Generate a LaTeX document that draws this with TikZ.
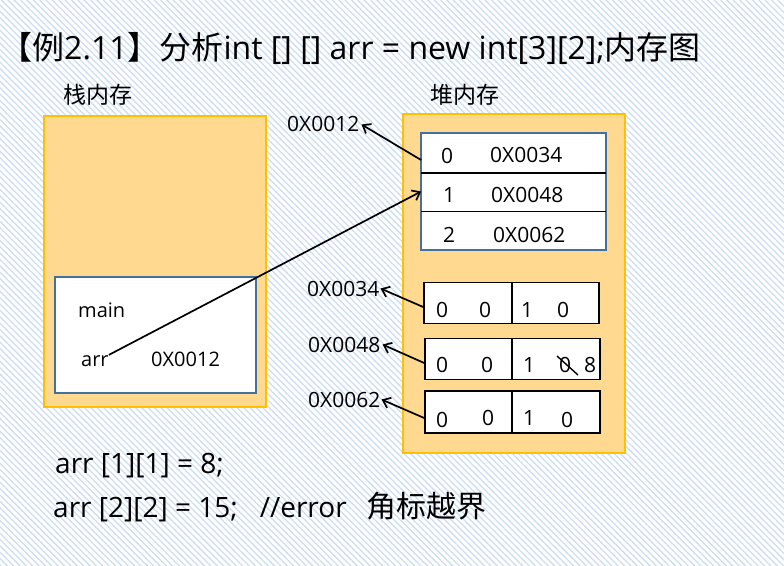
\documentclass[tikz,border=0pt]{standalone}
\usepackage{fontspec}
\setmainfont{Open Sans}
\newfontfamily\cjk{Noto Sans CJK SC}
\usetikzlibrary{arrows.meta,patterns.meta}
\definecolor{orfill}{HTML}{FFD98F}
\definecolor{orline}{HTML}{FFC000}
\definecolor{bluel}{HTML}{41719C}
\definecolor{hatch}{HTML}{CCDEF3}
\tikzset{
  txt/.style={inner sep=0pt, anchor=base west, font=\fontsize{21}{24}\selectfont},
  ctxt/.style={inner sep=0pt, anchor=base, font=\fontsize{21}{24}\selectfont},
  membox/.style={draw=orline, line width=1.6pt, fill=orfill},
  framebox/.style={draw=bluel, line width=1.8pt, fill=white},
  cellbox/.style={draw=black, line width=1.6pt, fill=white},
  arr/.style={line width=1.7pt, -{Straight Barb[length=7pt,width=11pt,line width=1.7pt]}},
}
\begin{document}
\begin{tikzpicture}[x=1pt,y=-1pt]
\useasboundingbox (0,0) rectangle (784,565);
\fill[white] (0,0) rectangle (784,565);
\fill[pattern={Lines[angle=-45,distance=4.5pt,line width=1.3pt]}, pattern color=hatch] (0,0) rectangle (784,565);

% title
\node[inner sep=0pt, anchor=base west, font=\fontsize{32}{36}\selectfont] (title) at (0,59)
  {{\cjk 【例}2.11{\cjk 】分析}int [] [] arr = new int[3][2];{\cjk 内存图}};

\node[inner sep=0pt, anchor=base west, font=\cjk\fontsize{23}{26}\selectfont] (stk) at (63,103) {栈内存};
\node[inner sep=0pt, anchor=base west, font=\cjk\fontsize{23}{26}\selectfont] (hp) at (430,103) {堆内存};

% stack memory
\draw[membox] (44,116) rectangle (266,407);
\draw[framebox] (55,277) rectangle (256,393);
\node[txt, font=\fontsize{20}{24}\selectfont] (main) at (78,317) {main};
\node[txt, font=\fontsize{20}{24}\selectfont] (arrv) at (81,366) {arr};
\node[txt, font=\fontsize{20}{24}\selectfont] (addr) at (151,366) {0X0012};

% heap memory
\draw[membox] (403,114) rectangle (625,453);
\node[framebox, draw=none, fill=white, minimum width=183pt, minimum height=38.5pt, inner sep=0pt] (r0) at (513.5,153) {};
\node[framebox, draw=none, fill=white, minimum width=183pt, minimum height=38.5pt, inner sep=0pt] (r1) at (513.5,191.5) {};
\node[framebox, draw=none, fill=white, minimum width=183pt, minimum height=38.5pt, inner sep=0pt] (r2) at (513.5,230) {};
\draw[draw=bluel, line width=1.8pt] (r0.north west) rectangle (r2.south east);
\draw[black, line width=1.6pt] (r0.south west) -- (r0.south east);
\draw[black, line width=1.6pt] (r1.south west) -- (r1.south east);
\node[txt] (i0) at (441,163) {0};
\node[txt] (a0) at (490,162) {0X0034};
\node[txt] (i1) at (443,202) {1};
\node[txt] (a1) at (491,202) {0X0048};
\node[txt] (i2) at (443,242) {2};
\node[txt] (a2) at (493,242) {0X0062};

% one-dim arrays
\node[cellbox, minimum width=88pt, minimum height=41pt, inner sep=0pt] (b1l) at (468,303) {};
\node[cellbox, minimum width=87pt, minimum height=41pt, inner sep=0pt] (b1r) at (555.5,303) {};
\node[cellbox, minimum width=88pt, minimum height=41pt, inner sep=0pt] (b2l) at (469,359) {};
\node[cellbox, minimum width=88pt, minimum height=41pt, inner sep=0pt] (b2r) at (556,359) {};
\node[cellbox, minimum width=88pt, minimum height=42pt, inner sep=0pt] (b3l) at (469,412) {};
\node[cellbox, minimum width=88pt, minimum height=42pt, inner sep=0pt] (b3r) at (556,412) {};

\node[ctxt] (c11) at (442,317) {0};
\node[ctxt] (c12) at (485,317) {0};
\node[ctxt] (c13) at (527,317) {1};
\node[ctxt] (c14) at (563,317) {0};
\node[ctxt] (c21) at (442,372) {0};
\node[ctxt] (c22) at (487,372) {0};
\node[ctxt] (c23) at (529,372) {1};
\node[ctxt] (c24) at (565,372) {0};
\node[ctxt] (c25) at (590,372) {8};
\node[ctxt] (c31) at (442,427) {0};
\node[ctxt] (c32) at (488,425) {0};
\node[ctxt] (c33) at (529,425) {1};
\node[ctxt] (c34) at (567,427) {0};
\coordinate (s1) at (557,356);
\coordinate (s2) at (578,375);
\draw[line width=1.4pt] (s1) -- (s2);

% address labels
\node[txt] (l0) at (287,131) {0X0012};
\node[txt] (l1) at (307,296) {0X0034};
\node[txt] (l2) at (308,352) {0X0048};
\node[txt] (l3) at (308,407) {0X0062};

% arrows
\draw[arr] ([yshift=-7pt]r0.west) -- ([xshift=2pt,yshift=-1pt]l0.east);
\draw[arr] (arrv.north east) -- (r1.west);
\draw[arr] ([yshift=-4pt]b1l.west) -- ([xshift=1pt]l1.east);
\draw[arr] ([yshift=-4pt]b2l.west) -- ([xshift=2pt]l2.east);
\draw[arr] ([yshift=-6pt]b3l.west) -- ([xshift=1pt]l3.east);

% code
\node[inner sep=0pt, anchor=base west, font=\fontsize{28}{32}\selectfont] (code1) at (55,473) {arr [1][1] = 8;};
\node[inner sep=0pt, anchor=base west, font=\fontsize{28}{32}\selectfont] (code2) at (53,517) {arr [2][2] = 15;\hspace{22pt}//error\hspace{20pt}{\cjk\fontsize{30}{32}\selectfont 角标越界}};
\end{tikzpicture}
\end{document}
